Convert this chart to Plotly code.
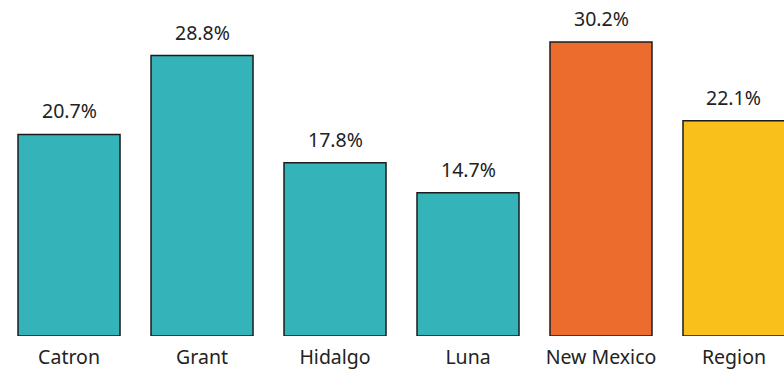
import plotly.graph_objects as go

# Share of population by area (percent)
areas = ["Catron", "Grant", "Hidalgo", "Luna", "New Mexico", "Region"]
values = [20.7, 28.8, 17.8, 14.7, 30.2, 22.1]
labels = ["20.7%", "28.8%", "17.8%", "14.7%", "30.2%", "22.1%"]
colors = ["#34B3B8", "#34B3B8", "#34B3B8", "#34B3B8", "#EC6C2D", "#F9BF1A"]

font_family = "Noto Sans, Open Sans, sans-serif"
text_color = "#222222"

fig = go.Figure(
    go.Bar(
        x=areas,
        y=values,
        marker=dict(color=colors, line=dict(color="#1c1c1c", width=1.5)),
        hoverinfo="skip",
    )
)

for area, v, lab in zip(areas, values, labels):
    fig.add_annotation(
        x=area, y=v, text=lab, showarrow=False,
        yanchor="bottom", yshift=8,
        font=dict(family=font_family, size=19.5, color=text_color),
    )

fig.update_layout(
    width=784, height=369,
    margin=dict(l=0, r=0, t=0, b=33),
    paper_bgcolor="white", plot_bgcolor="white",
    bargap=0.233,
    showlegend=False,
    xaxis=dict(
        type="category", range=[-0.519, 5.376],
        showgrid=False, zeroline=False, showline=False, ticks="",
        ticklabelstandoff=7,
        tickfont=dict(family=font_family, size=19.5, color=text_color),
    ),
    yaxis=dict(
        range=[0, 34.5], visible=False, showgrid=False, zeroline=False,
    ),
)

fig.write_html("out.html")
